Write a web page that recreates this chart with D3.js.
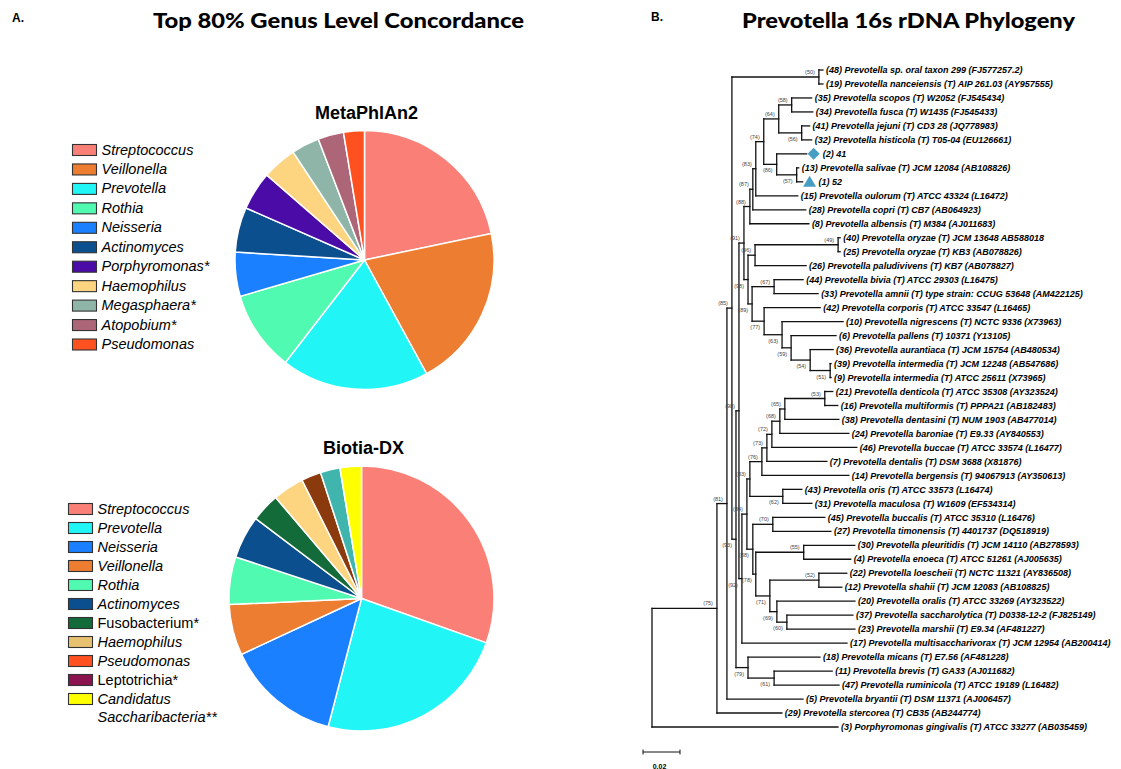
<!DOCTYPE html>
<html>
<head>
<meta charset="utf-8">
<script src="https://cdn.jsdelivr.net/npm/d3@7"></script>
<style>
  body { margin: 0; background: #fff; }
  svg { display: block; font-family: "Liberation Sans", Arial, sans-serif; }
</style>
</head>
<body>
<div id="figure"></div>
<script>
// ---- Panel A data: genus shares (%), clockwise from 12 o'clock
const metaGenera = ["Streptococcus", "Veillonella", "Prevotella", "Rothia", "Neisseria", "Actinomyces",
  "Porphyromonas*", "Haemophilus", "Megasphaera*", "Atopobium*", "Pseudomonas"]
const metaShares = [21.7, 20.3, 18.4, 10.0, 5.5, 5.6, 4.8, 4.3, 3.5, 3.2, 2.6]
const metaColors = ["#fa8077", "#ed7d31", "#22f5f5", "#50fab0", "#1a80ff", "#0c4f8e",
  "#4a0ba6", "#fdd47f", "#8fb5a8", "#ad6677", "#ff5020"]

const biotiaGenera = ["Streptococcus", "Prevotella", "Neisseria", "Veillonella", "Rothia", "Actinomyces",
  "Fusobacterium*", "Haemophilus", "Pseudomonas", "Leptotrichia*", "Candidatus|Saccharibacteria**"]
const biotiaItalic = [true, true, true, true, true, true, false, true, true, false, true]
const biotiaLegendColors = ["#fa8077", "#22f5f5", "#1a80ff", "#ed7d31", "#50fab0", "#0c4f8e",
  "#136b3a", "#e8c170", "#ff5020", "#8b1450", "#ffff00"]
const biotiaShares = [30.4, 23.6, 14.0, 6.2, 5.8, 5.2, 3.5, 3.8, 2.4, 2.4, 2.6]
const biotiaSliceColors = ["#fa8077", "#22f5f5", "#1a80ff", "#ed7d31", "#50fab0", "#0c4f8e",
  "#136b3a", "#fdd47f", "#8a3a0c", "#3fb5ad", "#ffff00"]

// ---- Panel B data: tree rows [node, parent, branch length, label], depth-first order
const treeRows = [
  ["root", "", 0, ""],
  ["n75", "root", 0.0351, "(75)"],
  ["n81", "n75", 0.0054, "(81)"],
  ["n85", "n81", 0.0027, "(85)"],
  ["n50", "n85", 0.0470, "(50)"],
  ["L48", "n50", 0.0022, "(48) Prevotella sp. oral taxon 299 (FJ577257.2)"],
  ["L19", "n50", 0.0022, "(19) Prevotella nanceiensis (T) AIP 261.03 (AY957555)"],
  ["n93", "n85", 0.0022, "(93)"],
  ["n98a", "n93", 0.0016, "(98)"],
  ["n91", "n98a", 0.0027, "(91)"],
  ["n88", "n91", 0.0032, "(88)"],
  ["n87", "n88", 0.0016, "(87)"],
  ["n83", "n87", 0.0016, "(83)"],
  ["n74", "n83", 0.0043, "(74)"],
  ["n64", "n74", 0.0081, "(64)"],
  ["n58", "n64", 0.0070, "(58)"],
  ["L35", "n58", 0.0108, "(35) Prevotella scopos (T) W2052 (FJ545434)"],
  ["L34", "n58", 0.0114, "(34) Prevotella fusca (T) W1435 (FJ545433)"],
  ["n56", "n64", 0.0124, "(56)"],
  ["L41", "n56", 0.0043, "(41) Prevotella jejuni (T) CD3 28 (JQ778983)"],
  ["L32", "n56", 0.0054, "(32) Prevotella histicola (T) T05-04 (EU126661)"],
  ["n86", "n74", 0.0070, "(86)"],
  ["L2", "n86", 0.0162, "(2) 41"],
  ["n57", "n86", 0.0108, "(57)"],
  ["L13", "n57", 0.0011, "(13) Prevotella salivae (T) JCM 12084 (AB108826)"],
  ["L1", "n57", 0.0032, "(1) 52"],
  ["L15", "n83", 0.0227, "(15) Prevotella oulorum (T) ATCC 43324 (L16472)"],
  ["L28", "n87", 0.0286, "(28) Prevotella copri (T) CB7 (AB064923)"],
  ["L8", "n88", 0.0319, "(8) Prevotella albensis (T) M384 (AJ011683)"],
  ["n98b", "n91", 0.0022, "(98)"],
  ["n96", "n98b", 0.0038, "(96)"],
  ["n49", "n96", 0.0449, "(49)"],
  ["L40", "n49", 0.0011, "(40) Prevotella oryzae (T) JCM 13648 AB588018"],
  ["L25", "n49", 0.0011, "(25) Prevotella oryzae (T) KB3 (AB078826)"],
  ["L26", "n96", 0.0276, "(26) Prevotella paludivivens (T) KB7 (AB078827)"],
  ["n89", "n98b", 0.0022, "(89)"],
  ["n67", "n89", 0.0119, "(67)"],
  ["L44", "n67", 0.0157, "(44) Prevotella bivia (T) ATCC 29303 (L16475)"],
  ["L33", "n67", 0.0238, "(33) Prevotella amnii (T) type strain: CCUG 53648 (AM422125)"],
  ["n77", "n89", 0.0065, "(77)"],
  ["L42", "n77", 0.0303, "(42) Prevotella corporis (T) ATCC 33547 (L16465)"],
  ["n63", "n77", 0.0097, "(63)"],
  ["L10", "n63", 0.0330, "(10) Prevotella nigrescens (T) NCTC 9336 (X73963)"],
  ["n59", "n63", 0.0049, "(59)"],
  ["L6", "n59", 0.0243, "(6) Prevotella pallens (T) 10371 (Y13105)"],
  ["n54", "n59", 0.0103, "(54)"],
  ["L36", "n54", 0.0124, "(36) Prevotella aurantiaca (T) JCM 15754 (AB480534)"],
  ["n51", "n54", 0.0108, "(51)"],
  ["L39", "n51", 0.0005, "(39) Prevotella intermedia (T) JCM 12248 (AB547686)"],
  ["L9", "n51", 0.0005, "(9) Prevotella intermedia (T) ATCC 25611 (X73965)"],
  ["n92", "n98a", 0.0016, "(92)"],
  ["n84", "n92", 0.0027, "(84)"],
  ["n83b", "n84", 0.0016, "(83)"],
  ["n76", "n83b", 0.0065, "(76)"],
  ["n73", "n76", 0.0027, "(73)"],
  ["n72", "n73", 0.0027, "(72)"],
  ["n68", "n72", 0.0043, "(68)"],
  ["n65", "n68", 0.0027, "(65)"],
  ["n53", "n65", 0.0216, "(53)"],
  ["L21", "n53", 0.0043, "(21) Prevotella denticola (T) ATCC 35308 (AY323524)"],
  ["L16", "n53", 0.0070, "(16) Prevotella multiformis (T) PPPA21 (AB182483)"],
  ["L38", "n65", 0.0292, "(38) Prevotella dentasini (T) NUM 1903 (AB477014)"],
  ["L24", "n68", 0.0373, "(24) Prevotella baroniae (T) E9.33 (AY840553)"],
  ["L46", "n72", 0.0459, "(46) Prevotella buccae (T) ATCC 33574 (L16477)"],
  ["L7", "n73", 0.0324, "(7) Prevotella dentalis (T) DSM 3688 (X81876)"],
  ["L14", "n76", 0.0470, "(14) Prevotella bergensis (T) 94067913 (AY350613)"],
  ["n62", "n83b", 0.0178, "(62)"],
  ["L43", "n62", 0.0103, "(43) Prevotella oris (T) ATCC 33573 (L16474)"],
  ["L31", "n62", 0.0157, "(31) Prevotella maculosa (T) W1609 (EF534314)"],
  ["n88b", "n84", 0.0032, "(88)"],
  ["n70", "n88b", 0.0108, "(70)"],
  ["L45", "n70", 0.0281, "(45) Prevotella buccalis (T) ATCC 35310 (L16476)"],
  ["L27", "n70", 0.0314, "(27) Prevotella timonensis (T) 4401737 (DQ518919)"],
  ["n78", "n88b", 0.0016, "(78)"],
  ["n55", "n78", 0.0259, "(55)"],
  ["L30", "n55", 0.0276, "(30) Prevotella pleuritidis (T) JCM 14110 (AB278593)"],
  ["L4", "n55", 0.0254, "(4) Prevotella enoeca (T) ATCC 51261 (AJ005635)"],
  ["n71", "n78", 0.0076, "(71)"],
  ["n52", "n71", 0.0265, "(52)"],
  ["L22", "n52", 0.0151, "(22) Prevotella loescheii (T) NCTC 11321 (AY836508)"],
  ["L12", "n52", 0.0124, "(12) Prevotella shahii (T) JCM 12083 (AB108825)"],
  ["n69", "n71", 0.0038, "(69)"],
  ["L20", "n69", 0.0422, "(20) Prevotella oralis (T) ATCC 33269 (AY323522)"],
  ["n60", "n69", 0.0054, "(60)"],
  ["L37", "n60", 0.0357, "(37) Prevotella saccharolytica (T) D0338-12-2 (FJ825149)"],
  ["L23", "n60", 0.0368, "(23) Prevotella marshii (T) E9.34 (AF481227)"],
  ["L17", "n92", 0.0568, "(17) Prevotella multisaccharivorax (T) JCM 12954 (AB200414)"],
  ["n79", "n93", 0.0065, "(79)"],
  ["L18", "n79", 0.0389, "(18) Prevotella micans (T) E7.56 (AF481228)"],
  ["n61", "n79", 0.0141, "(61)"],
  ["L11", "n61", 0.0314, "(11) Prevotella brevis (T) GA33 (AJ011682)"],
  ["L47", "n61", 0.0351, "(47) Prevotella ruminicola (T) ATCC 19189 (L16482)"],
  ["L5", "n81", 0.0411, "(5) Prevotella bryantii (T) DSM 11371 (AJ006457)"],
  ["L29", "n75", 0.0351, "(29) Prevotella stercorea (T) CB35 (AB244774)"],
  ["L3", "root", 0.1005, "(3) Porphyromonas gingivalis (T) ATCC 33277 (AB035459)"]
]
// study isolates shown with a symbol instead of a reference strain
const markedLeaves = {L2: "diamond", L1: "triangle"}
const scaleBarValue = 0.02

const width = 1121, height = 769

const svg = d3.select("#figure").append("svg")
  .attr("width", width)
  .attr("height", height)

// ---------------- Panel A ----------------
svg.append("text").attr("x", 12).attr("y", 22)
  .style("font-size", "12px").style("font-weight", "bold").text("A.")

svg.append("text").attr("x", 153).attr("y", 28)
  .attr("textLength", 371).attr("lengthAdjust", "spacingAndGlyphs")
  .style("font-family", "Lato, 'DejaVu Sans', sans-serif")
  .style("font-size", "21px").style("font-weight", "900")
  .text("Top 80% Genus Level Concordance")

const drawPie = (cx, cy, r, title, shares, colors) => {
  const g = svg.append("g").attr("transform", "translate(" + cx + "," + cy + ")")
  const arcs = d3.pie().sort(null).value(d => d)(shares)
  const arc = d3.arc().innerRadius(0).outerRadius(r)
  g.selectAll("path")
    .data(arcs)
    .enter().append("path")
    .attr("d", arc)
    .attr("fill", (d, i) => colors[i])
    .attr("stroke", "#fff")
    .attr("stroke-width", 1.5)
  svg.append("text")
    .attr("x", cx + 2).attr("y", cy - r - 12)
    .attr("text-anchor", "middle")
    .style("font-size", "18px").style("font-weight", "bold")
    .text(title)
}

const drawLegend = (x, y, step, labels, colors, italic) => {
  const legend = svg.append("g").attr("transform", "translate(" + x + "," + y + ")")
  labels.forEach((label, i) => {
    const row = legend.append("g").attr("transform", "translate(0," + (i * step) + ")")
    row.append("rect")
      .attr("width", 24).attr("height", 11)
      .attr("fill", colors[i])
      .attr("stroke", "#333").attr("stroke-width", 1.1)
    const text = row.append("text")
      .attr("x", 29).attr("y", 10)
      .style("font-size", "14.5px")
      .style("font-style", italic[i] ? "italic" : "normal")
    label.split("|").forEach((part, k) => {
      text.append("tspan").attr("x", 29).attr("dy", k === 0 ? 0 : 18).text(part)
    })
  })
}

drawPie(364.5, 260, 129.5, "MetaPhlAn2", metaShares, metaColors)
drawLegend(72.5, 144.5, 19.45, metaGenera, metaColors, metaGenera.map(() => true))

drawPie(361.5, 598.5, 132.5, "Biotia-DX", biotiaShares, biotiaSliceColors)
drawLegend(68.5, 503.5, 19, biotiaGenera, biotiaLegendColors, biotiaItalic)

// ---------------- Panel B ----------------
svg.append("text").attr("x", 651).attr("y", 21)
  .style("font-size", "12px").style("font-weight", "bold").text("B.")

svg.append("text").attr("x", 742).attr("y", 28)
  .attr("textLength", 333).attr("lengthAdjust", "spacingAndGlyphs")
  .style("font-family", "Lato, 'DejaVu Sans', sans-serif")
  .style("font-size", "21px").style("font-weight", "900")
  .text("Prevotella 16s rDNA Phylogeny")

const root = d3.stratify()
  .id(d => d[0])
  .parentId(d => d[1] || null)(treeRows)

// cumulative distance from the root
root.each(node => {
  node.dist = node.parent ? node.parent.dist + node.data[2] : 0
})

const leaves = root.leaves()
const xScale = d3.scaleLinear().domain([0, 0.1]).range([652, 837])
const yScale = d3.scaleLinear().domain([0, leaves.length - 1]).range([70, 727])

leaves.forEach((leaf, i) => { leaf.py = yScale(i) })
root.eachAfter(node => {
  if (node.children) {
    node.py = (node.children[0].py + node.children[node.children.length - 1].py) / 2
  }
  node.px = xScale(node.dist)
})

const tree = svg.append("g")
  .attr("stroke", "#111")
  .attr("stroke-width", 1.3)
  .attr("stroke-linecap", "square")
  .attr("fill", "none")

// horizontal branches
root.descendants().filter(n => n.parent).forEach(n => {
  tree.append("line")
    .attr("x1", n.parent.px).attr("x2", n.px)
    .attr("y1", n.py).attr("y2", n.py)
})
// vertical connectors
root.descendants().filter(n => n.children).forEach(n => {
  tree.append("line")
    .attr("x1", n.px).attr("x2", n.px)
    .attr("y1", n.children[0].py).attr("y2", n.children[n.children.length - 1].py)
})

// bootstrap support
root.descendants().filter(n => n.children && n.parent).forEach(n => {
  const upper = n.parent.children[0] === n
  svg.append("text")
    .attr("x", n.px - 4)
    .attr("y", upper ? n.py - 3 : n.py + 8)
    .attr("text-anchor", "end")
    .style("font-size", "5.5px")
    .style("fill", "#444")
    .text(n.data[3])
})

// leaf labels
leaves.forEach(leaf => {
  const marker = markedLeaves[leaf.id]
  let textX = leaf.px + 3
  if (marker) {
    const mx = leaf.px + 7
    const shape = marker === "diamond"
      ? [[mx, leaf.py - 6], [mx + 6, leaf.py], [mx, leaf.py + 6], [mx - 6, leaf.py]]
      : [[mx, leaf.py - 6], [mx + 6.5, leaf.py + 5], [mx - 6.5, leaf.py + 5]]
    svg.append("polygon")
      .attr("points", shape.map(p => p.join(",")).join(" "))
      .attr("fill", "#469ec4")
    textX = leaf.px + 16
  }
  svg.append("text")
    .attr("x", textX).attr("y", leaf.py + 3.2)
    .style("font-size", "9px")
    .style("font-weight", "bold")
    .style("font-style", "italic")
    .text(leaf.data[3])
})

// scale bar
const barLeft = 643
const barRight = barLeft + xScale(scaleBarValue) - xScale(0)
const bar = svg.append("g").attr("stroke", "#111").attr("stroke-width", 1)
bar.append("line").attr("x1", barLeft).attr("x2", barRight).attr("y1", 752).attr("y2", 752)
bar.append("line").attr("x1", barLeft).attr("x2", barLeft).attr("y1", 749.5).attr("y2", 754.5)
bar.append("line").attr("x1", barRight).attr("x2", barRight).attr("y1", 749.5).attr("y2", 754.5)
svg.append("text")
  .attr("x", (barLeft + barRight) / 2 - 2).attr("y", 769)
  .attr("text-anchor", "middle")
  .style("font-size", "7px").style("font-weight", "bold")
  .text(scaleBarValue.toFixed(2))
</script>
</body>
</html>
